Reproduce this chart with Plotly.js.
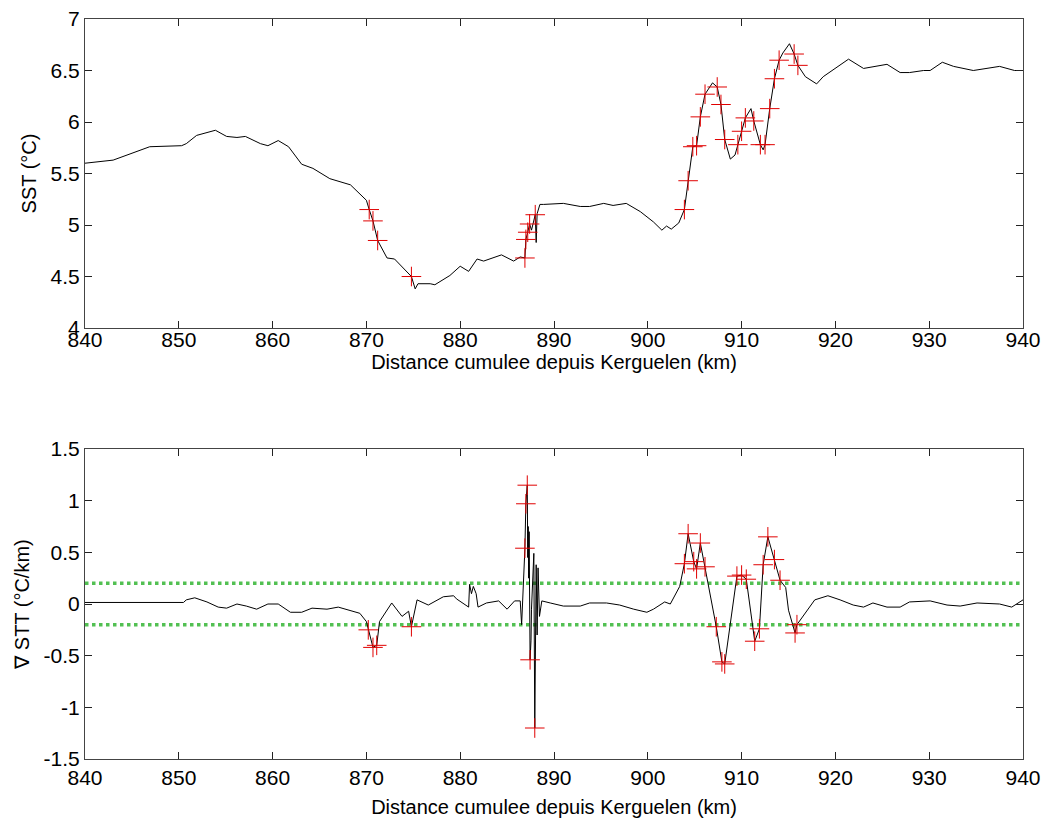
<!DOCTYPE html>
<html>
<head>
<meta charset="utf-8">
<script src="https://cdn.plot.ly/plotly-3.0.1.min.js"></script>
<style>
  html, body { margin: 0; padding: 0; background: #fff; }
  #chart { width: 1044px; height: 821px; }
</style>
</head>
<body>
<div id="chart"></div>
<script>
// Sea surface temperature along the track (km from Kerguelen)
const distSst = [840.0, 843.0, 844.8, 846.9, 850.3, 850.8, 851.9, 853.9, 855.1, 856.2, 857.1, 858.7, 859.5, 860.6, 861.7,
  863.1, 864.3, 866.1, 868.3, 870.0, 870.3, 870.7, 871.2, 872.2, 873.0, 874.1, 874.8, 875.2, 875.5, 876.8, 877.3,
  878.9, 880.0, 880.9, 881.8, 882.5, 883.5, 884.4, 885.7, 886.4, 886.9, 887.0, 887.2, 887.4, 887.6, 887.9, 888.0,
  888.1, 888.2, 888.5, 888.9, 891.0, 892.8, 893.8, 895.3, 896.3, 897.7, 899.2, 900.6, 901.5, 902.0, 902.5, 903.3,
  903.9, 904.3, 904.8, 905.2, 905.6, 906.1, 906.9, 907.4, 907.8, 908.2, 908.8, 909.3, 909.6, 910.0, 910.4, 911.0,
  911.3, 912.0, 912.3, 912.5, 913.0, 913.5, 914.0, 914.4, 915.1, 915.6, 916.0, 916.8, 918.0, 918.7, 921.4, 923.0,
  925.5, 926.9, 927.9, 929.4, 930.1, 931.4, 932.6, 934.7, 937.5, 939.1, 940.0];
const sst = [5.60, 5.63, 5.69, 5.76, 5.77, 5.79, 5.87, 5.92, 5.86, 5.85, 5.86, 5.79, 5.77, 5.82, 5.76,
  5.59, 5.55, 5.45, 5.39, 5.24, 5.15, 5.04, 4.85, 4.68, 4.67, 4.56, 4.50, 4.38, 4.43, 4.43, 4.42,
  4.51, 4.60, 4.55, 4.67, 4.65, 4.68, 4.71, 4.65, 4.69, 4.68, 4.86, 4.93, 5.01, 4.95, 5.06, 5.10,
  4.83, 5.11, 5.20, 5.20, 5.21, 5.18, 5.18, 5.21, 5.19, 5.21, 5.13, 5.03, 4.95, 4.99, 4.96, 5.02,
  5.15, 5.43, 5.76, 5.77, 6.05, 6.27, 6.38, 6.34, 6.17, 5.83, 5.64, 5.68, 5.78, 5.91, 6.04, 6.13,
  6.01, 5.78, 5.73, 5.78, 6.13, 6.42, 6.60, 6.67, 6.76, 6.66, 6.55, 6.44, 6.37, 6.44, 6.61, 6.52,
  6.56, 6.48, 6.48, 6.50, 6.50, 6.58, 6.54, 6.50, 6.54, 6.50, 6.50];

// Points flagged as fronts on the SST curve
const distSstFront = [870.3, 870.7, 871.2, 874.8, 886.9, 887.0, 887.2, 887.4, 888.0, 903.9, 904.3, 904.8, 905.2,
  905.6, 906.1, 907.4, 907.8, 908.2, 909.6, 910.0, 910.4, 911.3, 912.0, 912.5, 913.0, 913.5, 914.0, 915.6, 916.0];
const sstFront = [5.15, 5.04, 4.85, 4.50, 4.68, 4.86, 4.93, 5.01, 5.10, 5.15, 5.43, 5.76, 5.77,
  6.05, 6.27, 6.34, 6.17, 5.83, 5.78, 5.91, 6.04, 6.01, 5.78, 5.78, 6.13, 6.42, 6.60, 6.66, 6.55];

// Along-track temperature gradient (°C/km)
const distGrad = [840.0, 850.5, 850.8, 851.7, 853.0, 854.2, 855.1, 856.2, 857.2, 858.3, 859.5, 860.6, 861.9, 863.1,
  864.2, 865.8, 867.0, 868.3, 869.3, 870.0, 870.2, 870.7, 871.1, 871.4, 872.7, 873.8, 874.5, 874.8, 875.4, 876.6,
  878.2, 879.3, 879.6, 880.9, 881.0, 881.2, 881.4, 881.7, 881.9, 882.8, 884.1, 885.0, 885.8, 886.4, 886.55, 886.75,
  886.9, 887.0, 887.15, 887.2, 887.25, 887.3, 887.35, 887.45, 887.55, 887.6, 887.7, 887.85, 887.95, 888.1, 888.2,
  888.3, 888.45, 888.7, 889.6, 891.0,
  892.8, 893.8, 895.6, 897.0, 898.5, 899.9, 900.6, 901.8, 902.4, 903.4, 903.9, 904.3, 904.9, 905.2, 905.6, 906.1,
  907.3, 907.9, 908.2, 909.5, 910.0, 910.5, 911.4, 911.9, 912.3, 912.8, 913.5, 914.1, 914.7, 915.0, 915.7, 915.9,
  917.8, 919.2, 920.5, 921.9, 923.0, 924.0, 925.5, 926.9, 927.9, 930.1, 931.9, 933.3, 935.1, 937.5, 938.8, 939.5, 940.0];
const grad = [0.015, 0.015, 0.04, 0.06, 0.02, -0.03, -0.04, 0.00, -0.02, -0.05, 0.00, 0.00, -0.08, -0.08,
  -0.04, -0.05, -0.03, -0.06, -0.09, -0.17, -0.25, -0.42, -0.40, -0.17, 0.01, -0.12, -0.07, -0.22, 0.04, -0.01,
  0.07, 0.08, 0.05, -0.03, 0.19, 0.10, 0.17, 0.10, -0.03, 0.01, 0.03, -0.05, 0.03, 0.03, -0.20, 0.20,
  0.54, 0.97, 1.15, 0.45, 0.75, 0.25, 0.70, -0.54, -0.35, -0.05, 0.13, 0.49, -1.20, 0.38, -0.30,
  0.35, -0.12, 0.03, 0.01, -0.02,
  -0.02, 0.01, 0.01, -0.01, -0.05, -0.08, -0.05, 0.02, 0.00, 0.17, 0.39, 0.68, 0.41, 0.34, 0.59, 0.36,
  -0.22, -0.56, -0.58, 0.27, 0.28, 0.24, -0.36, -0.24, 0.38, 0.65, 0.43, 0.23, 0.16, -0.06, -0.28, -0.20,
  0.04, 0.08, 0.04, -0.01, -0.03, 0.01, -0.03, -0.03, 0.02, 0.03, -0.01, -0.02, 0.01, 0.00, -0.03, 0.01, 0.04];

// Gradient values beyond the threshold
const distGradFront = [870.2, 870.7, 871.1, 874.8, 886.9, 887.0, 887.15, 887.45, 887.95, 903.9, 904.3, 904.9, 905.2,
  905.6, 906.1, 907.3, 907.9, 908.2, 909.5, 910.0, 910.5, 911.4, 911.9, 912.3, 912.8, 913.5, 914.1, 915.7, 915.9];
const gradFront = [-0.25, -0.42, -0.40, -0.22, 0.54, 0.97, 1.15, -0.54, -1.20, 0.39, 0.68, 0.41, 0.34,
  0.59, 0.36, -0.22, -0.56, -0.58, 0.27, 0.28, 0.24, -0.36, -0.24, 0.38, 0.65, 0.43, 0.23, -0.28, -0.20];

// Detection threshold (°C/km) and its extent
const threshold = 0.2;
const thresholdSpan = [840, 940];

// Axis ticks
const distTicks = [840, 850, 860, 870, 880, 890, 900, 910, 920, 930, 940];
const sstTicks = [4, 4.5, 5, 5.5, 6, 6.5, 7];
const gradTicks = [-1.5, -1, -0.5, 0, 0.5, 1, 1.5];
const gradTickText = ['-1.5', '-1', '-0.5', '0', '0.5', '1', '1.5'];

const FONT = 'Liberation Sans, Arial, Helvetica, sans-serif';
const TICK_SIZE = 21;
const TITLE_SIZE = 20;
const X_TITLE = 'Distance cumulee depuis Kerguelen (km)';
const crossMarker = { symbol: 'cross-thin-open', size: 14, color: '#e00000', line: { color: '#e00000', width: 1 } };
const thresholdLine = { color: '#52c052', width: 3.5, dash: 'dot' };

const traces = [
  { x: distSst, y: sst, xaxis: 'x', yaxis: 'y', mode: 'lines', line: { color: '#000', width: 1 } },
  { x: distSstFront, y: sstFront, xaxis: 'x', yaxis: 'y', mode: 'markers', marker: crossMarker },
  { x: thresholdSpan, y: [threshold, threshold], xaxis: 'x2', yaxis: 'y2', mode: 'lines', line: thresholdLine },
  { x: thresholdSpan, y: [-threshold, -threshold], xaxis: 'x2', yaxis: 'y2', mode: 'lines', line: thresholdLine },
  { x: distGrad, y: grad, xaxis: 'x2', yaxis: 'y2', mode: 'lines', line: { color: '#000', width: 1 } },
  { x: distGradFront, y: gradFront, xaxis: 'x2', yaxis: 'y2', mode: 'markers', marker: crossMarker }
];

const xAxisBase = {
  range: [840, 940], tickvals: distTicks, ticks: 'inside', ticklen: 7, tickcolor: '#222',
  showline: true, linecolor: '#444', linewidth: 1, mirror: 'allticks',
  showgrid: false, zeroline: false, tickfont: { family: FONT, size: TICK_SIZE, color: '#000' }
};
const yAxisBase = {
  ticks: 'inside', ticklen: 7, tickcolor: '#222',
  showline: true, linecolor: '#444', linewidth: 1, mirror: 'allticks',
  showgrid: false, zeroline: false, tickfont: { family: FONT, size: TICK_SIZE, color: '#000' }
};

const layout = {
  width: 1044, height: 821,
  margin: { l: 85, r: 21, t: 19, b: 62 },
  paper_bgcolor: '#fff', plot_bgcolor: '#fff',
  showlegend: false,
  xaxis: Object.assign({}, xAxisBase, {
    domain: [0, 1], anchor: 'y', ticklabelstandoff: -7,
    title: { text: X_TITLE, font: { family: FONT, size: TITLE_SIZE, color: '#000' }, standoff: 0 }
  }),
  yaxis: Object.assign({}, yAxisBase, {
    domain: [0.5824, 1], anchor: 'x', range: [4, 7], tickvals: sstTicks,
    title: { text: 'SST (°C)', font: { family: FONT, size: TITLE_SIZE, color: '#000' }, standoff: 8 }
  }),
  xaxis2: Object.assign({}, xAxisBase, {
    domain: [0, 1], anchor: 'y2',
    title: { text: X_TITLE, font: { family: FONT, size: TITLE_SIZE, color: '#000' }, standoff: 11 }
  }),
  yaxis2: Object.assign({}, yAxisBase, {
    domain: [0, 0.4189], anchor: 'x2', range: [-1.5, 1.5], tickvals: gradTicks, ticktext: gradTickText,
    title: { text: '∇ STT (°C/km)', font: { family: FONT, size: TITLE_SIZE, color: '#000' }, standoff: 8 }
  })
};

Plotly.newPlot('chart', traces, layout, { displayModeBar: false, staticPlot: true });
</script>
</body>
</html>
